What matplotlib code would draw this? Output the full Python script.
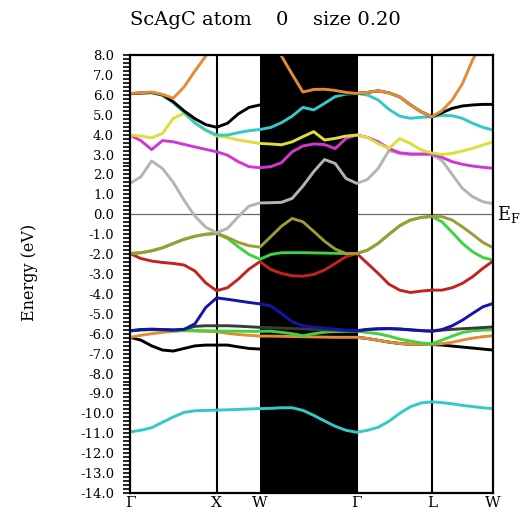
import numpy as np
import matplotlib
matplotlib.use('Agg')
import matplotlib.pyplot as plt
from matplotlib.ticker import MultipleLocator, FormatStrFormatter

plt.rcParams['font.family'] = ['DejaVu Serif']
plt.rcParams['mathtext.fontset'] = 'dejavuserif'

# high symmetry points along the path (units of 2pi/a) and sampling steps per segment
sym_labels = ['\u0393', 'X', 'W', '\u0393', 'L', 'W']
sym_k = [0.0, 1.0, 1.5, 2.618, 3.484, 4.191]
n_steps = [8, 4, 9, 7, 6]

# band energies (eV), lowest band first
cyan_low = [-10.93, -10.85, -10.72, -10.45, -10.18, -9.95, -9.87, -9.85, -9.84,
            -9.82, -9.80, -9.78, -9.76,
            -9.75, -9.72, -9.72, -9.85, -10.10, -10.38, -10.65, -10.85, -10.95,
            -10.85, -10.70, -10.40, -10.00, -9.67, -9.48, -9.42,
            -9.46, -9.52, -9.60, -9.66, -9.72, -9.76]
black_low = [-6.18, -6.32, -6.61, -6.82, -6.87, -6.74, -6.61, -6.57, -6.57,
             -6.57, -6.66, -6.74, -6.77,
             -6.70, -6.60, -6.50, -6.42, -6.35, -6.30, -6.25, -6.20, -6.18,
             -6.24, -6.33, -6.42, -6.49, -6.53, -6.54, -6.54,
             -6.57, -6.62, -6.67, -6.72, -6.77, -6.82]
orange_low = [-6.18, -6.08, -6.00, -5.93, -5.88, -5.85, -5.86, -5.88, -5.90,
              -5.98, -6.04, -6.08, -6.12,
              -6.12, -6.13, -6.14, -6.15, -6.16, -6.17, -6.18, -6.18, -6.18,
              -6.24, -6.33, -6.42, -6.49, -6.53, -6.54, -6.54,
              -6.50, -6.43, -6.32, -6.22, -6.15, -6.10]
green_low = [-5.87, -5.82, -5.80, -5.81, -5.83, -5.84, -5.84, -5.85, -5.86,
             -5.87, -5.87, -5.88, -5.88,
             -5.87, -5.93, -6.00, -6.10, -6.00, -5.92, -5.89, -5.88, -5.87,
             -5.94, -6.00, -6.12, -6.27, -6.37, -6.46, -6.51,
             -6.32, -6.12, -5.94, -5.85, -5.82, -5.80]
dark = [-5.86, -5.80, -5.78, -5.80, -5.82, -5.78, -5.63, -5.60, -5.60,
        -5.60, -5.62, -5.65, -5.68,
        -5.70, -5.72, -5.74, -5.76, -5.78, -5.80, -5.82, -5.84, -5.86,
        -5.79, -5.76, -5.75, -5.77, -5.81, -5.85, -5.87,
        -5.82, -5.78, -5.75, -5.72, -5.69, -5.66]
blue = [-5.85, -5.79, -5.77, -5.79, -5.81, -5.78, -5.50, -4.68, -4.20,
        -4.27, -4.35, -4.43, -4.50,
        -4.60, -4.98, -5.40, -5.60, -5.67, -5.72, -5.77, -5.82, -5.85,
        -5.78, -5.75, -5.74, -5.76, -5.80, -5.84, -5.87,
        -5.79, -5.60, -5.32, -4.98, -4.65, -4.48]
red = [-1.97, -2.22, -2.35, -2.42, -2.47, -2.55, -2.85, -3.45, -3.84,
       -3.69, -3.26, -2.75, -2.38,
       -2.77, -2.97, -3.09, -3.11, -3.02, -2.80, -2.47, -2.13, -1.97,
       -2.47, -2.97, -3.51, -3.81, -3.93, -3.86, -3.81,
       -3.81, -3.69, -3.47, -3.14, -2.72, -2.35]
green = [-1.97, -1.94, -1.84, -1.69, -1.47, -1.26, -1.11, -1.01, -0.97,
         -1.21, -1.63, -2.02, -2.26,
         -2.02, -1.93, -1.93, -1.93, -1.94, -1.95, -1.96, -1.97, -1.97,
         -1.80, -1.46, -1.01, -0.58, -0.29, -0.16, -0.11,
         -0.38, -0.91, -1.46, -1.88, -2.17, -2.30]
olive = [-1.97, -1.93, -1.83, -1.68, -1.46, -1.25, -1.10, -1.00, -0.95,
         -1.16, -1.41, -1.58, -1.65,
         -1.13, -0.60, -0.21, -0.38, -0.86, -1.35, -1.75, -1.97, -1.97,
         -1.80, -1.46, -1.01, -0.58, -0.29, -0.16, -0.11,
         -0.12, -0.29, -0.63, -1.01, -1.41, -1.68]
gray = [1.55, 1.88, 2.68, 2.30, 1.60, 0.70, -0.10, -0.65, -0.93,
        -0.71, -0.12, 0.41, 0.57,
        0.58, 0.60, 0.80, 1.42, 2.14, 2.75, 2.55, 1.80, 1.55,
        1.75, 2.30, 3.20, 3.05, 3.00, 3.00, 3.00,
        2.70, 2.00, 1.30, 0.88, 0.63, 0.53]
magenta = [3.98, 3.70, 3.25, 3.70, 3.64, 3.51, 3.38, 3.26, 3.14,
           2.97, 2.64, 2.39, 2.34,
           2.39, 2.59, 3.14, 3.43, 3.53, 3.50, 3.30, 3.81, 3.98,
           3.86, 3.64, 3.30, 3.09, 3.03, 3.03, 3.03,
           2.86, 2.64, 2.51, 2.42, 2.36, 2.31]
yellow = [3.98, 3.93, 3.84, 4.06, 4.82, 5.07, 4.57, 4.20, 3.93,
          3.86, 3.73, 3.64, 3.56,
          3.53, 3.49, 3.64, 3.90, 4.15, 3.73, 3.81, 3.93, 3.98,
          3.85, 3.55, 3.30, 3.80, 3.56, 3.23, 3.08,
          3.00, 3.06, 3.18, 3.31, 3.48, 3.64]
cyan = [6.05, 6.08, 6.10, 5.97, 5.60, 5.12, 4.60, 4.23, 3.98,
        3.98, 4.10, 4.20, 4.26,
        4.36, 4.60, 4.93, 5.37, 5.24, 5.57, 5.91, 6.04, 6.07,
        5.99, 5.74, 5.27, 4.93, 4.82, 4.87, 4.90,
        4.97, 4.95, 4.82, 4.57, 4.37, 4.23]
black = [6.06, 6.09, 6.12, 6.00, 5.65, 5.19, 4.80, 4.50, 4.37,
         4.57, 5.04, 5.37, 5.49,
         5.55, 5.65, 5.80, 5.95, 6.05, 6.10, 6.10, 6.08, 6.07,
         6.12, 6.20, 6.10, 5.90, 5.50, 5.15, 4.90,
         5.10, 5.32, 5.44, 5.49, 5.52, 5.52]
orange = [6.07, 6.10, 6.14, 6.02, 5.83, 6.40, 7.20, 7.95, 8.70,
          9.20, 9.50, 9.50, 9.30,
          8.50, 7.95, 7.03, 6.14, 6.27, 6.28, 6.22, 6.12, 6.07,
          6.12, 6.20, 6.10, 5.90, 5.50, 5.15, 4.90,
          5.20, 5.74, 6.55, 7.75, 8.70, 9.60]

bands = [cyan_low, black_low, orange_low, green_low, dark, blue, red, green,
         olive, gray, magenta, yellow, cyan, black, orange]
colors = ['#33C9C4', '#000000', '#E58A35', '#3DD43D', '#3A3A3A', '#1414A8',
          '#C42222', '#3DD43D', '#9C9C34', '#B4B4B4', '#D236D2', '#DEDE3A',
          '#33C9C4', '#000000', '#E58A35']

# k grid
k = [sym_k[0]]
for i, n in enumerate(n_steps):
    k += list(np.linspace(sym_k[i], sym_k[i + 1], n + 1)[1:])
k = np.array(k)

fig = plt.figure(figsize=(5.23, 5.13), dpi=100)
ax = fig.add_axes([130 / 523, 1 - 493 / 513, 363 / 523, 438 / 513])

ax.axhline(0, color='#6a6a6a', lw=0.9, zorder=1)
ax.axvspan(sym_k[2], sym_k[3], color='black', zorder=2, lw=0)
for xv in [sym_k[1], sym_k[3], sym_k[4]]:
    ax.axvline(xv, color='black', lw=1.5, zorder=2.5)

for i, (e, c) in enumerate(zip(bands, colors)):
    ax.plot(k, e, color=c, lw=2.1, zorder=3 + i * 0.1, solid_capstyle='round')

ax.set_xlim(sym_k[0], sym_k[-1])
ax.set_ylim(-14, 8)
ax.set_xticks(sym_k)
ax.set_xticklabels(sym_labels, fontsize=11)
ax.tick_params(axis='x', length=0, pad=2)
ax.yaxis.set_major_locator(MultipleLocator(1.0))
ax.yaxis.set_minor_locator(MultipleLocator(0.2))
ax.yaxis.set_major_formatter(FormatStrFormatter('%.1f'))
ax.tick_params(axis='y', which='both', direction='out', length=5, width=1.2,
               labelsize=9.5, pad=6.5)
for sp in ax.spines.values():
    sp.set_linewidth(1.6)
    sp.set_zorder(10)

fig.text(30 / 523, 1 - 272 / 513, 'Energy (eV)', rotation=90, ha='center',
         va='center', fontsize=11.5)
ty = 1 - 20 / 513
fig.text(130 / 523, ty, 'ScAgC atom', ha='left', va='center', fontsize=14)
fig.text(282 / 523, ty, '0', ha='center', va='center', fontsize=14)
fig.text(313 / 523, ty, 'size 0.20', ha='left', va='center', fontsize=14)
ax.text(1.012, 14.0 / 22, r'$\mathrm{E_F}$', transform=ax.transAxes,
        fontsize=13, ha='left', va='center')

fig.savefig('out.png', dpi=100)
